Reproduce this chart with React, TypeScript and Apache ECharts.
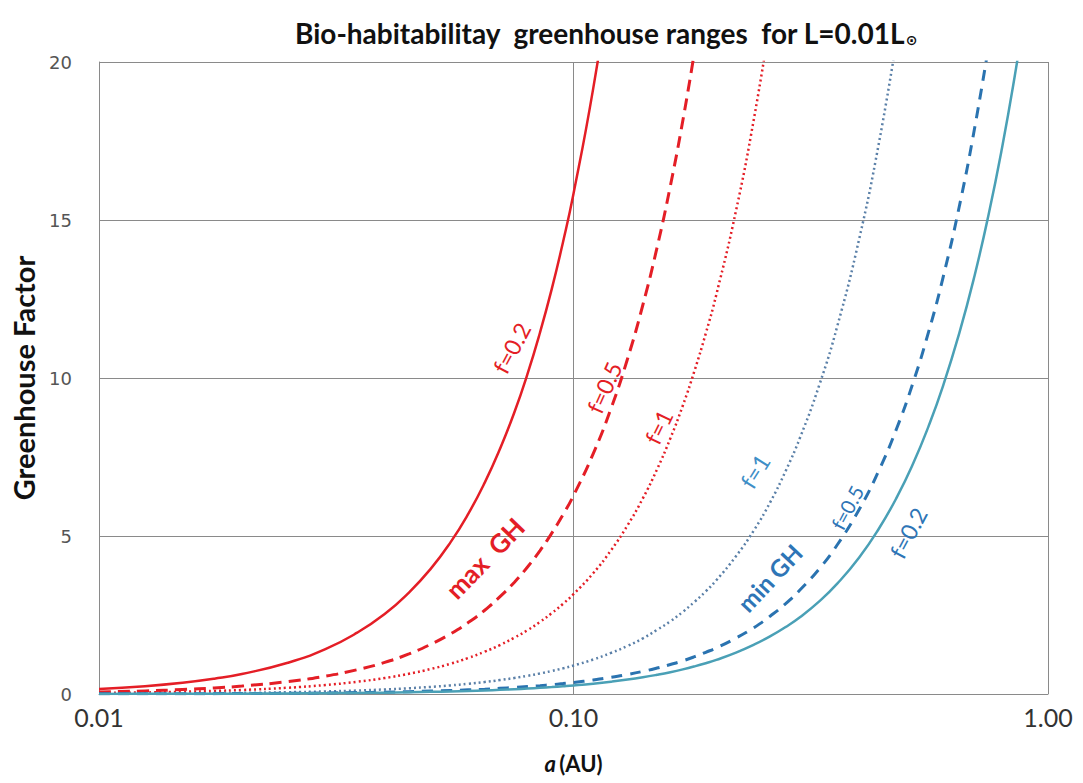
import React, { useEffect, useRef } from "react";
import * as echarts from "echarts";

// semi-major axis a (AU)
const aValues = [
  0.01, 0.0125, 0.015, 0.0175, 0.02, 0.025, 0.03, 0.035, 0.04, 0.045, 0.05,
  0.055, 0.06, 0.065, 0.07, 0.075, 0.08, 0.085, 0.09, 0.095, 0.1, 0.11, 0.12,
  0.13, 0.14, 0.15, 0.16, 0.17, 0.18, 0.19, 0.2, 0.22, 0.24, 0.26, 0.28, 0.3,
  0.33, 0.36, 0.4, 0.44, 0.48, 0.52, 0.56, 0.6, 0.65, 0.7, 0.75, 0.8, 0.85, 0.9,
];

// max GH curves (red)
const maxGH_f02 = [
  0.158, 0.247, 0.356, 0.485, 0.633, 0.989, 1.42, 1.94, 2.53, 3.21, 3.96,
  4.79, 5.7, 6.69, 7.76, 8.9, 10.13, 11.44, 12.82, 14.29, 15.83, 19.15, 22.8,
];
const maxGH_f05 = [
  0.063, 0.098, 0.141, 0.192, 0.251, 0.393, 0.565, 0.769, 1.0, 1.27, 1.57,
  1.9, 2.26, 2.65, 3.08, 3.53, 4.02, 4.54, 5.09, 5.67, 6.28, 7.6, 9.04,
  10.61, 12.31, 14.13, 16.08, 18.15, 20.35,
];
const maxGH_f1 = [
  0.032, 0.049, 0.071, 0.097, 0.126, 0.198, 0.284, 0.387, 0.506, 0.64, 0.79,
  0.956, 1.14, 1.34, 1.55, 1.78, 2.02, 2.28, 2.56, 2.85, 3.16, 3.82, 4.55,
  5.34, 6.19, 7.11, 8.09, 9.13, 10.24, 11.41, 12.64, 15.29, 18.2, 21.36,
];

// min GH curves (blue)
const minGH_f1 = [
  0.009, 0.014, 0.02, 0.028, 0.036, 0.056, 0.081, 0.11, 0.144, 0.182, 0.225,
  0.272, 0.324, 0.38, 0.441, 0.506, 0.576, 0.65, 0.729, 0.812, 0.9, 1.09, 1.3,
  1.52, 1.76, 2.03, 2.3, 2.6, 2.92, 3.25, 3.6, 4.36, 5.18, 6.08, 7.06, 8.1,
  9.8, 11.66, 14.4, 17.42, 20.74,
];
const minGH_f05 = [
  0.004, 0.006, 0.008, 0.011, 0.015, 0.023, 0.033, 0.045, 0.058, 0.074, 0.091,
  0.11, 0.131, 0.154, 0.179, 0.205, 0.234, 0.264, 0.296, 0.329, 0.365, 0.442,
  0.526, 0.617, 0.715, 0.821, 0.934, 1.05, 1.18, 1.32, 1.46, 1.77, 2.1, 2.47,
  2.86, 3.29, 3.97, 4.73, 5.84, 7.07, 8.41, 9.87, 11.45, 13.14, 15.42, 17.89,
  20.53,
];
const minGH_f02 = [
  0.003, 0.004, 0.006, 0.008, 0.011, 0.017, 0.024, 0.033, 0.043, 0.055, 0.068,
  0.082, 0.097, 0.114, 0.132, 0.152, 0.173, 0.195, 0.219, 0.244, 0.27, 0.327,
  0.389, 0.456, 0.529, 0.608, 0.691, 0.78, 0.875, 0.975, 1.08, 1.31, 1.56,
  1.83, 2.12, 2.43, 2.94, 3.5, 4.32, 5.23, 6.22, 7.3, 8.47, 9.72, 11.41, 13.23,
  15.19, 17.28, 19.51, 21.87,
];

const yTicks = [0, 5, 10, 15, 20];

// curve annotations: text, anchor in data coords [a, GH], angle (deg)
const annotations = [
  { text: "f=0.2", at: [0.074, 10.95], angle: 62, color: "#e41e26", size: 23, bold: false },
  { text: "f=0.5", at: [0.116, 9.7], angle: 66, color: "#e41e26", size: 23, bold: false },
  { text: "f=1", at: [0.151, 8.45], angle: 64, color: "#e41e26", size: 23, bold: false },
  { text: "max  GH", at: [0.065, 4.3], angle: 46, color: "#e41e26", size: 26, bold: true },
  { text: "f=1", at: [0.241, 7.05], angle: 58, color: "#3f8fc7", size: 23, bold: false },
  { text: "f=0.5", at: [0.377, 5.9], angle: 62, color: "#2e75b6", size: 20, bold: false },
  { text: "f=0.2", at: [0.507, 5.1], angle: 62, color: "#2e75b6", size: 23, bold: false },
  { text: "min GH", at: [0.259, 3.68], angle: 47, color: "#2e75b6", size: 24, bold: true },
];

const zip = (ys: number[]) => ys.map((y, i) => [aValues[i], y]);

export default function App() {
  const ref = useRef<HTMLDivElement>(null);
  useEffect(() => {
    if (!ref.current) return;
    const chart = echarts.init(ref.current, undefined, { renderer: "svg" });
    const gridColor = "#8a8a8a";
    const mk = (name: string, ys: number[], color: string, width: number, type: any) => ({
      name,
      type: "line",
      data: zip(ys),
      showSymbol: false,
      symbol: "none",
      smooth: true,
      clip: true,
      lineStyle: { color, width, type, cap: "butt" },
    });
    chart.setOption({
      animation: false,
      backgroundColor: "#ffffff",
      title: {
        text: "Bio-habitabilitay  greenhouse ranges  for L=0.01L{s|⊙}",
        left: 290,
        top: 14,
        textStyle: {
          fontFamily: "Lato",
          fontWeight: "bold",
          fontSize: 28,
          color: "#111",
          rich: {
            s: { fontFamily: "DejaVu Sans", fontSize: 14, fontWeight: "bold", color: "#111", padding: [14, 0, 0, 0] },
          },
        },
      },
      grid: { left: 99, right: 35, top: 62, bottom: 89, containLabel: false },
      xAxis: {
        type: "log",
        logBase: 10,
        min: 0.01,
        max: 1,
        axisLine: { show: true, lineStyle: { color: gridColor, width: 1 } },
        axisTick: { show: false },
        minorTick: { show: false },
        axisLabel: {
          formatter: (v: number) => v.toFixed(2),
          fontFamily: "Lato",
          fontSize: 25,
          color: "#333",
          margin: 10,
        },
        splitLine: { show: true, lineStyle: { color: gridColor, width: 1 } },
        name: "{a|a} {b|(AU)}",
        nameLocation: "middle",
        nameGap: 58,
        nameTextStyle: {
          rich: {
            a: { fontFamily: "Lato", fontSize: 22, fontWeight: "bold", fontStyle: "italic", color: "#111" },
            b: { fontFamily: "Lato", fontSize: 22, fontWeight: "bold", color: "#111" },
          },
        },
      },
      yAxis: {
        type: "value",
        min: yTicks[0],
        max: yTicks[yTicks.length - 1],
        interval: yTicks[1] - yTicks[0],
        axisLine: { show: true, lineStyle: { color: gridColor, width: 1 } },
        axisTick: { show: false },
        axisLabel: { fontFamily: "DejaVu Sans", fontSize: 18, color: "#555", margin: 27 },
        splitLine: { show: true, lineStyle: { color: gridColor, width: 1 } },
        name: "Greenhouse Factor",
        nameLocation: "middle",
        nameGap: 55,
        nameTextStyle: { fontFamily: "Lato", fontSize: 29, fontWeight: "bold", color: "#111" },
      },
      series: [
        mk("max f=0.2", maxGH_f02, "#e41e26", 2.5, "solid"),
        mk("max f=0.5", maxGH_f05, "#e41e26", 3, [12, 7]),
        mk("max f=1", maxGH_f1, "#e41e26", 2.5, [2, 3]),
        mk("min f=1", minGH_f1, "#5b80a8", 2.5, [2, 3]),
        mk("min f=0.5", minGH_f05, "#2a73b0", 3, [11, 8]),
        mk("min f=0.2", minGH_f02, "#4aa0b6", 2.5, "solid"),
      ],
    });
    const graphics = annotations.map((an) => {
      const p = chart.convertToPixel({ gridIndex: 0 }, an.at) as number[];
      return {
        type: "text",
        x: p[0],
        y: p[1],
        rotation: (an.angle * Math.PI) / 180,
        style: {
          text: an.text,
          fill: an.color,
          fontFamily: "Lato",
          fontSize: an.size,
          fontWeight: an.bold ? "bold" : "normal",
          align: "center",
          verticalAlign: "middle",
        },
      };
    });
    chart.setOption({ graphic: graphics });
    return () => chart.dispose();
  }, []);
  return (
    <div
      ref={ref}
      style={{ position: "fixed", left: 0, top: 0, width: 1083, height: 783, background: "#fff" }}
    />
  );
}
